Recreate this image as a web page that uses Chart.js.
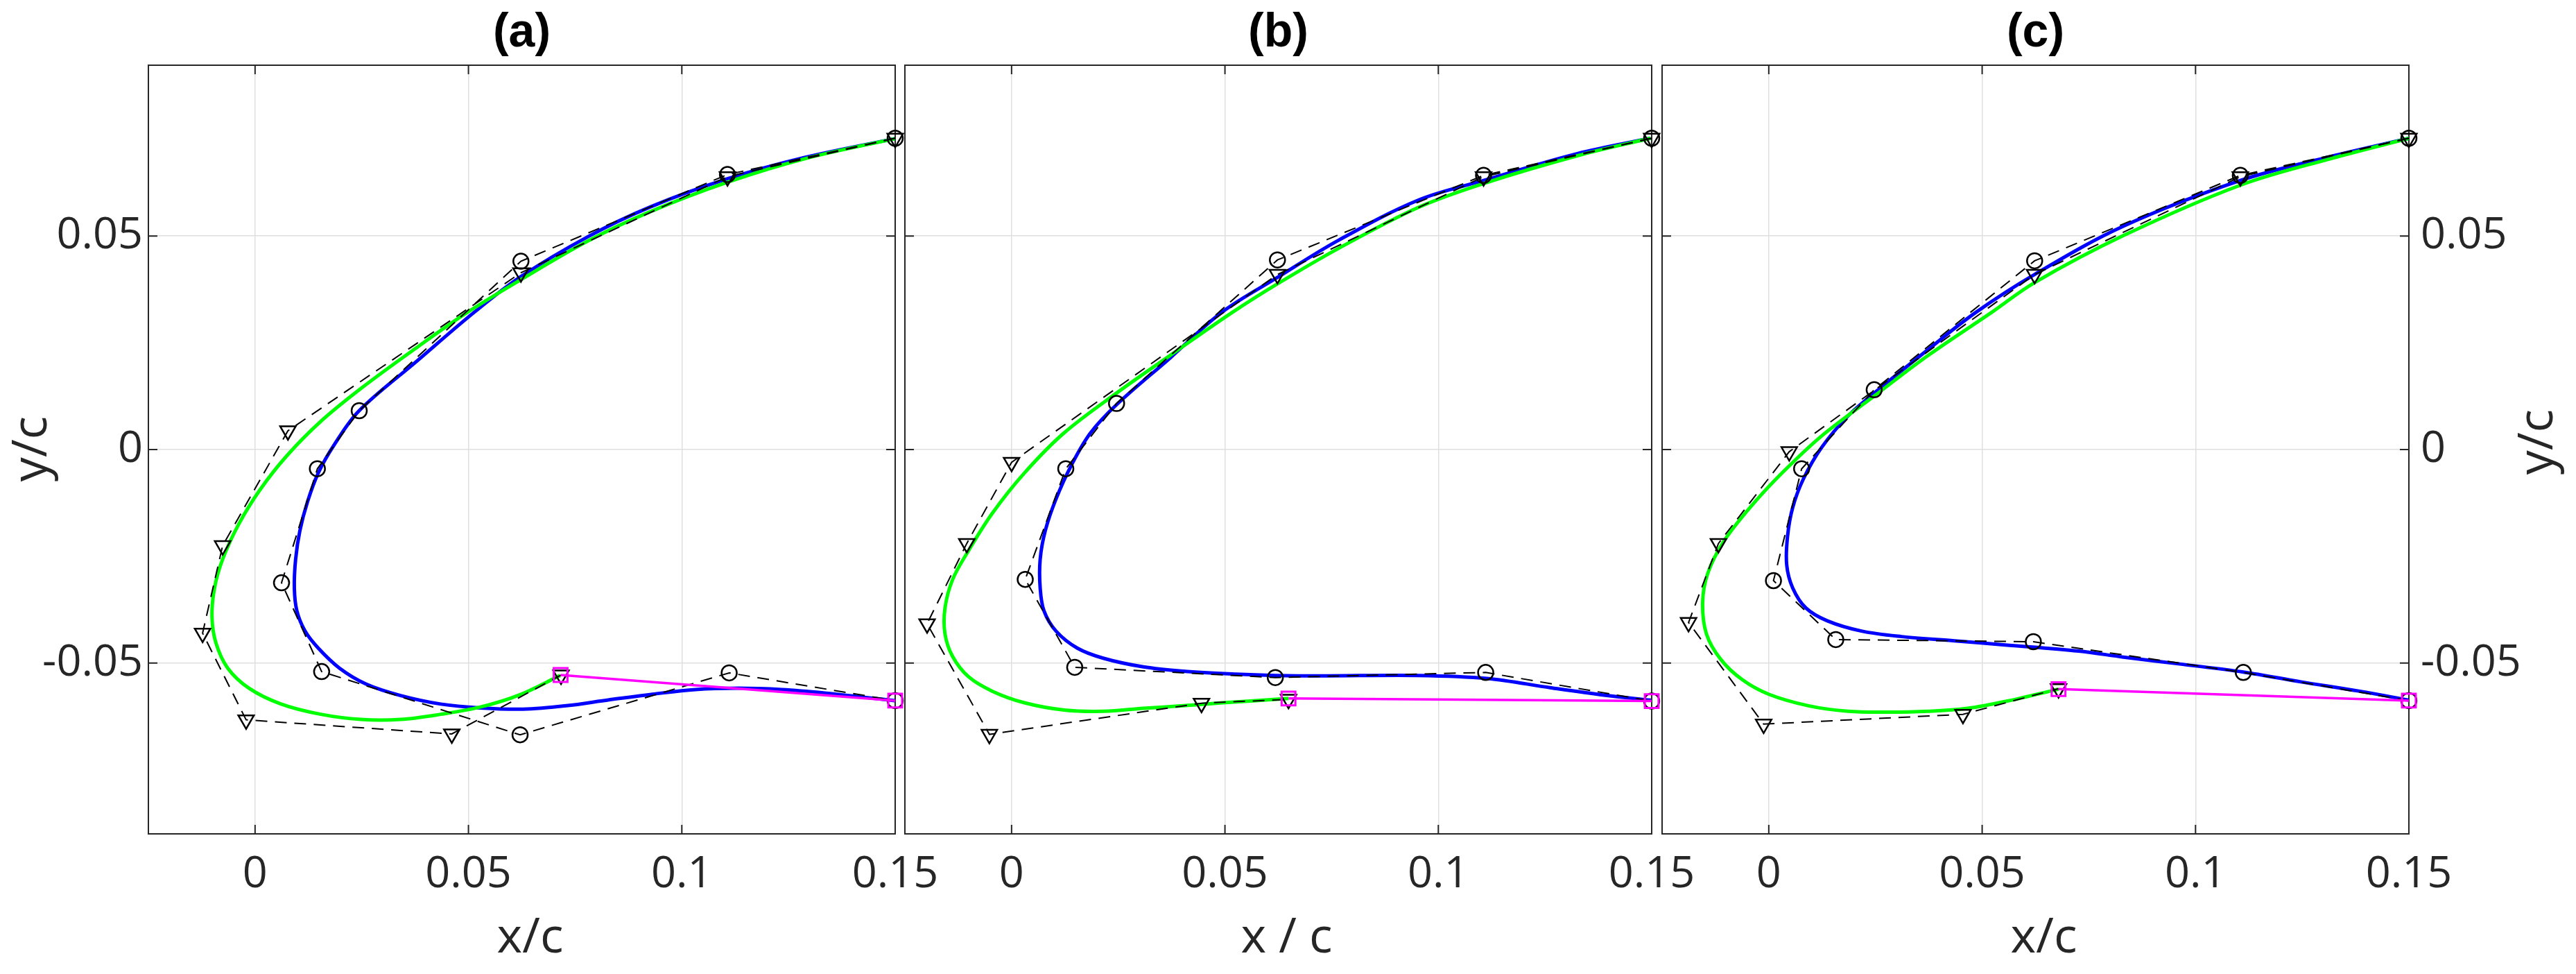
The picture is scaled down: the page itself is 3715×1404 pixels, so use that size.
<!DOCTYPE html>
<html>
<head>
<meta charset="utf-8">
<script src="https://cdn.jsdelivr.net/npm/chart.js@4.4.1/dist/chart.umd.min.js"></script>
<style>
html,body{margin:0;padding:0;background:#fff;}
#wrap{position:relative;width:3715px;height:1404px;overflow:hidden;background:#fff;}
canvas{position:absolute;top:0;}
</style>
</head>
<body>
<div id="wrap">
<canvas id="panelA" width="1400" height="1404" style="left:0px"></canvas>
<canvas id="panelB" width="1287" height="1404" style="left:1205px"></canvas>
<canvas id="panelC" width="1418" height="1404" style="left:2297px"></canvas>
</div>
<script>
/* Three airfoil panels: control polygons (dashed), curves (blue / green), tail (magenta). */
var xTicks = [0, 0.05, 0.1, 0.15];
var yTicks = [-0.05, 0, 0.05];
var xRange = [-0.025, 0.15];
var yRange = [-0.09, 0.09];
var panelTitles = ['(a)', '(b)', '(c)'];
var xTitles = ['x/c', 'x / c', 'x/c'];
var yTitle = 'y/c';

// panel (a)
var circA = [[0.15,0.0729],[0.1107,0.0644],[0.0623,0.0441],[0.0244,0.0091],[0.0146,-0.0045],[0.0062,-0.0312],[0.0156,-0.0520],[0.0621,-0.0668],[0.1111,-0.0523],[0.15,-0.0588]];
var triA = [[0.15,0.0729],[0.1107,0.0639],[0.0623,0.0414],[0.0077,0.0044],[-0.0076,-0.0225],[-0.0123,-0.0430],[-0.0021,-0.0633],[0.0461,-0.0666],[0.0717,-0.0528]];
var blueA = [[0.1499,0.0728],[0.1288,0.0684],[0.1107,0.0634],[0.0926,0.0568],[0.0781,0.0499],[0.0623,0.0405],[0.0513,0.0321],[0.0378,0.0206],[0.0244,0.0091],[0.0186,0.0012],[0.0148,-0.0055],[0.0123,-0.0122],[0.0105,-0.0190],[0.0095,-0.0257],[0.0092,-0.0324],[0.0098,-0.0378],[0.0117,-0.0425],[0.0148,-0.0465],[0.0198,-0.0512],[0.0260,-0.0549],[0.0341,-0.0576],[0.0435,-0.0596],[0.0528,-0.0605],[0.0628,-0.0608],[0.0729,-0.0600],[0.0830,-0.0586],[0.0931,-0.0573],[0.1032,-0.0562],[0.1133,-0.0559],[0.1234,-0.0562],[0.1335,-0.0570],[0.1435,-0.0581],[0.1499,-0.0588]];
var greenA = [[0.1499,0.0728],[0.1288,0.0681],[0.1107,0.0626],[0.0926,0.0557],[0.0781,0.0489],[0.0623,0.0398],[0.0497,0.0321],[0.0372,0.0234],[0.0248,0.0143],[0.0154,0.0066],[0.0074,-0.0015],[0.0011,-0.0095],[-0.0039,-0.0176],[-0.0076,-0.0257],[-0.0095,-0.0324],[-0.0101,-0.0391],[-0.0092,-0.0452],[-0.0064,-0.0512],[-0.0014,-0.0559],[0.0061,-0.0596],[0.0154,-0.0620],[0.0248,-0.0632],[0.0341,-0.0632],[0.0435,-0.0620],[0.0528,-0.0603],[0.0621,-0.0574],[0.0715,-0.0529]];
var tailA = [[0.0716,-0.0528],[0.15,-0.0588]];

// panel (b)
var circB = [[0.15,0.0729],[0.1106,0.0642],[0.0623,0.0444],[0.0246,0.0108],[0.0127,-0.0045],[0.0032,-0.0304],[0.0148,-0.0510],[0.0618,-0.0534],[0.1111,-0.0522],[0.15,-0.0589]];
var triB = [[0.15,0.0729],[0.1106,0.0639],[0.0623,0.0410],[0.0,-0.0030],[-0.0105,-0.0220],[-0.0198,-0.0408],[-0.0052,-0.0667],[0.0445,-0.0594],[0.0649,-0.0585]];
var blueB = [[0.1497,0.0729],[0.1326,0.0693],[0.1106,0.0630],[0.0953,0.0584],[0.0766,0.0490],[0.0623,0.0403],[0.0492,0.0321],[0.0371,0.0214],[0.0247,0.0106],[0.0185,0.0039],[0.0141,-0.0035],[0.0104,-0.0116],[0.0079,-0.0190],[0.0067,-0.0257],[0.0067,-0.0324],[0.0076,-0.0378],[0.0104,-0.0425],[0.0154,-0.0465],[0.0216,-0.0489],[0.0309,-0.0509],[0.0402,-0.0519],[0.0526,-0.0526],[0.0619,-0.0529],[0.0723,-0.0530],[0.0953,-0.0529],[0.1114,-0.0536],[0.1264,-0.0558],[0.1388,-0.0575],[0.1498,-0.0587]];
var greenB = [[0.1497,0.0729],[0.1326,0.0688],[0.1106,0.0623],[0.0953,0.0567],[0.0766,0.0471],[0.0623,0.0388],[0.0517,0.0321],[0.0371,0.0220],[0.0247,0.0133],[0.0123,0.0039],[0.0030,-0.0055],[-0.0045,-0.0149],[-0.0101,-0.0237],[-0.0138,-0.0304],[-0.0156,-0.0371],[-0.0156,-0.0432],[-0.0138,-0.0485],[-0.0101,-0.0532],[-0.0045,-0.0566],[0.0030,-0.0593],[0.0123,-0.0610],[0.0216,-0.0613],[0.0309,-0.0606],[0.0402,-0.0600],[0.0495,-0.0593],[0.0649,-0.0583]];
var tailB = [[0.0649,-0.0583],[0.15,-0.0589]];

// panel (c)
var circC = [[0.15,0.0729],[0.1105,0.0642],[0.0623,0.0442],[0.0247,0.0140],[0.0077,-0.0045],[0.0011,-0.0307],[0.0157,-0.0445],[0.0620,-0.0450],[0.1112,-0.0522],[0.15,-0.0588]];
var triC = [[0.15,0.0729],[0.1105,0.0639],[0.0623,0.0410],[0.0048,-0.0005],[-0.0118,-0.0220],[-0.0188,-0.0405],[-0.0012,-0.0643],[0.0455,-0.0620],[0.0679,-0.0560]];
var blueC = [[0.1501,0.0729],[0.1316,0.0686],[0.1105,0.0630],[0.0831,0.0523],[0.0623,0.0410],[0.0485,0.0321],[0.0373,0.0234],[0.0248,0.0133],[0.0186,0.0079],[0.0124,0.0005],[0.0081,-0.0069],[0.0056,-0.0136],[0.0044,-0.0203],[0.0042,-0.0270],[0.0056,-0.0324],[0.0087,-0.0371],[0.0137,-0.0401],[0.0217,-0.0425],[0.0311,-0.0438],[0.0435,-0.0448],[0.0559,-0.0458],[0.0726,-0.0472],[0.0831,-0.0486],[0.0970,-0.0503],[0.1112,-0.0521],[0.1247,-0.0544],[0.1385,-0.0566],[0.1501,-0.0587]];
var greenC = [[0.1501,0.0729],[0.1316,0.0681],[0.1105,0.0619],[0.0831,0.0501],[0.0623,0.0391],[0.0522,0.0321],[0.0373,0.0220],[0.0248,0.0126],[0.0124,0.0032],[0.0031,-0.0055],[-0.0044,-0.0136],[-0.0106,-0.0216],[-0.0143,-0.0290],[-0.0155,-0.0358],[-0.0146,-0.0432],[-0.0112,-0.0492],[-0.0062,-0.0539],[0.0,-0.0573],[0.0093,-0.0600],[0.0186,-0.0613],[0.0280,-0.0615],[0.0373,-0.0613],[0.0466,-0.0606],[0.0559,-0.0589],[0.0679,-0.0561]];
var tailC = [[0.0679,-0.0561],[0.15,-0.0588]];

(function(){
'use strict';

var AXIS = '#262626';
var TICK_FONT = {family:'"Open Sans", "DejaVu Sans", sans-serif', size:63};
var LABEL_FONT = '70px "Open Sans", "DejaVu Sans", sans-serif';
var TITLE_FONT = 'bold 68px "Liberation Sans", Arial, sans-serif';

function pts(list){ return list.map(function(p){ return {x:p[0], y:p[1]}; }); }
function fmt(v){ return String(+(+v).toFixed(3)); }

// box, inward ticks and the panel texts
var framePlugin = {
  id:'frame',
  beforeDatasetsDraw:function(chart){
    var ctx = chart.ctx, a = chart.chartArea, sx = chart.scales.x, sy = chart.scales.y;
    ctx.save();
    ctx.strokeStyle = AXIS;
    ctx.lineWidth = 2;
    ctx.strokeRect(a.left, a.top, a.right - a.left, a.bottom - a.top);
    ctx.beginPath();
    xTicks.forEach(function(v){
      var px = sx.getPixelForValue(v);
      ctx.moveTo(px, a.bottom); ctx.lineTo(px, a.bottom - 13);
      ctx.moveTo(px, a.top); ctx.lineTo(px, a.top + 13);
    });
    yTicks.forEach(function(v){
      var py = sy.getPixelForValue(v);
      ctx.moveTo(a.left, py); ctx.lineTo(a.left + 13, py);
      ctx.moveTo(a.right, py); ctx.lineTo(a.right - 13, py);
    });
    ctx.stroke();
    ctx.restore();
  },
  afterDraw:function(chart, args, opts){
    var ctx = chart.ctx, a = chart.chartArea;
    var cx = (a.left + a.right) / 2;
    ctx.save();
    ctx.textAlign = 'center';
    ctx.textBaseline = 'alphabetic';
    ctx.fillStyle = '#000';
    ctx.font = TITLE_FONT;
    ctx.fillText(opts.title, cx, 67);
    ctx.fillStyle = AXIS;
    ctx.font = LABEL_FONT;
    ctx.fillText(opts.xTitle, cx + 12, 1373);
    if(opts.yTitle){
      var bx = opts.ySide === 'right' ? a.right + 207 : a.left - 147;
      ctx.translate(bx, opts.yMid);
      ctx.rotate(-Math.PI / 2);
      ctx.fillText(opts.yTitle, 0, 0);
    }
    ctx.restore();
  }
};

function buildDatasets(circ, tri, blue, green, tail){
  var open = 'rgba(0,0,0,0)';
  return [
    {data:pts(tail), borderColor:'#ff00ff', borderWidth:3.5, pointStyle:'rect', pointRadius:14,
      pointBorderWidth:3, pointBorderColor:'#ff00ff', pointBackgroundColor:open, clip:false},
    {data:pts(tri), borderColor:'#000', borderWidth:2, borderDash:[17,11], pointStyle:'triangle', pointRotation:180,
      pointRadius:13, pointBorderWidth:2.5, pointBorderColor:'#000', pointBackgroundColor:open, clip:false},
    {data:pts(circ), borderColor:'#000', borderWidth:2, borderDash:[17,11], pointStyle:'circle',
      pointRadius:11, pointBorderWidth:2.5, pointBorderColor:'#000', pointBackgroundColor:open, clip:false},
    {data:pts(green), borderColor:'#00ff00', borderWidth:5, pointRadius:0, tension:0.35},
    {data:pts(blue), borderColor:'#0000ff', borderWidth:5, pointRadius:0, tension:0.35}
  ].map(function(d){ d.showLine = true; return d; });
}

function makePanel(id, idx, sets, yPos, yWidth, yLabels, pad, yMid){
  new Chart(document.getElementById(id), {
    type:'scatter',
    data:{datasets:sets},
    options:{
      responsive:false, animation:false, devicePixelRatio:1, events:[],
      layout:{padding:{top:94, left:pad.left, right:pad.right, bottom:0}},
      plugins:{
        legend:{display:false}, tooltip:{enabled:false},
        frame:{title:panelTitles[idx], xTitle:xTitles[idx], yTitle:yLabels ? yTitle : '', ySide:yPos, yMid:yMid}
      },
      scales:{
        x:{
          type:'linear', position:'bottom', min:xRange[0], max:xRange[1],
          afterBuildTicks:function(s){ s.ticks = xTicks.map(function(v){ return {value:v}; }); },
          afterFit:function(s){ s.height = 202; },
          grid:{color:'#dfdfdf', lineWidth:1.5, drawTicks:false},
          border:{display:false},
          ticks:{padding:21, color:AXIS, font:TICK_FONT, maxRotation:0, autoSkip:false, callback:fmt}
        },
        y:{
          type:'linear', position:yPos, min:yRange[0], max:yRange[1],
          afterBuildTicks:function(s){ s.ticks = yTicks.map(function(v){ return {value:v}; }); },
          afterFit:function(s){ s.width = yWidth; },
          grid:{color:'#dfdfdf', lineWidth:1.5, drawTicks:false},
          border:{display:false},
          ticks:{display:yLabels, padding:yPos === 'right' ? 17 : 8, color:AXIS, font:TICK_FONT, autoSkip:false, callback:fmt}
        }
      }
    },
    plugins:[framePlugin]
  });
}

makePanel('panelA', 0, buildDatasets(circA, triA, blueA, greenA, tailA), 'left', 214, true, {left:0, right:109}, 647);
makePanel('panelB', 1, buildDatasets(circB, triB, blueB, greenB, tailB), 'left', 100, false, {left:0, right:110}, 647);
makePanel('panelC', 2, buildDatasets(circC, triC, blueC, greenC, tailC), 'right', 241, true, {left:100, right:0}, 637);
})();
</script>
</body>
</html>
